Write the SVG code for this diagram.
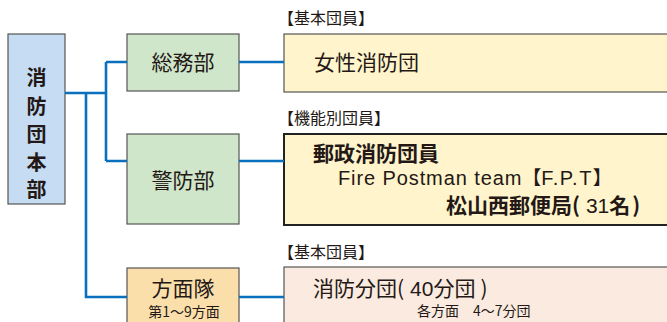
<svg xmlns="http://www.w3.org/2000/svg" width="667" height="322" viewBox="0 0 667 322">
<style>
svg{font-family:"Noto Sans CJK JP","Liberation Sans",sans-serif}
text{fill:#231815}
.box{stroke:#555;stroke-width:1.2}
.ln{stroke:#0a6fbd;stroke-width:2.6;fill:none}
.lb{font-size:16px}
.n{font-size:21px}
.lat{font-family:"Liberation Sans","Noto Sans CJK JP",sans-serif}
</style>
<rect width="667" height="322" fill="#fff"/>
<g id="hq"><rect class="box" x="8" y="34" width="57" height="170" fill="#c6dcf2"/>
<g font-size="20" font-weight="bold" text-anchor="middle"><text x="36.5" y="85">消</text><text x="36.5" y="114">防</text><text x="36.5" y="142">団</text><text x="36.5" y="170">本</text><text x="36.5" y="197">部</text></g></g>
<g id="soumu"><rect class="box" x="127" y="34" width="112" height="57" fill="#cfe6ca"/><text class="n" x="183" y="70" text-anchor="middle">総務部</text></g>
<g id="keibo"><rect class="box" x="127" y="134" width="112" height="90" fill="#cfe6ca"/><text class="n" x="183" y="188" text-anchor="middle">警防部</text></g>
<g id="homen"><rect class="box" x="127" y="268" width="112" height="60" fill="#fbdfab"/><text class="n" x="183" y="296" text-anchor="middle">方面隊</text><text x="184" y="317" font-size="14" text-anchor="middle">第1～9方面</text></g>
<g id="josei"><text class="lb" x="278" y="24">【基本団員】</text><rect class="box" x="284" y="34" width="390" height="58" fill="#fff4cc"/><text class="n" x="314" y="70">女性消防団</text></g>
<g id="kinou"><text class="lb" x="278" y="124">【機能別団員】</text><rect x="284" y="134" width="390" height="91" fill="#fff4cc" stroke="#222" stroke-width="2"/>
<text x="313" y="161" font-size="21" font-weight="bold">郵政消防団員</text>
<text x="338" y="185" font-size="19"><tspan class="lat" font-size="20" letter-spacing="0.9">Fire Postman team</tspan><tspan>【</tspan><tspan class="lat" font-size="20" letter-spacing="1.5">F.P.T</tspan><tspan>】</tspan></text>
<text x="446" y="213" font-size="21" font-weight="bold">松山西郵便局(<tspan font-weight="normal" class="lat" dx="6">31</tspan>名<tspan dx="2">)</tspan></text></g>
<g id="bundan"><text class="lb" x="278" y="258">【基本団員】</text><rect class="box" x="284" y="267" width="390" height="60" fill="#faeadf"/>
<text x="313" y="296" font-size="21">消防分団(<tspan class="lat" dx="6">40</tspan>分団<tspan dx="5">)</tspan></text><text x="417" y="316" font-size="14">各方面　4～7分団</text></g>
<g id="connectors">
<path class="ln" d="M65 93H106M106 62V161M106 62H127M106 161H127M86 93V297H127M239 62H284M239 161H284M239 297H284"/>
</g>
</svg>
